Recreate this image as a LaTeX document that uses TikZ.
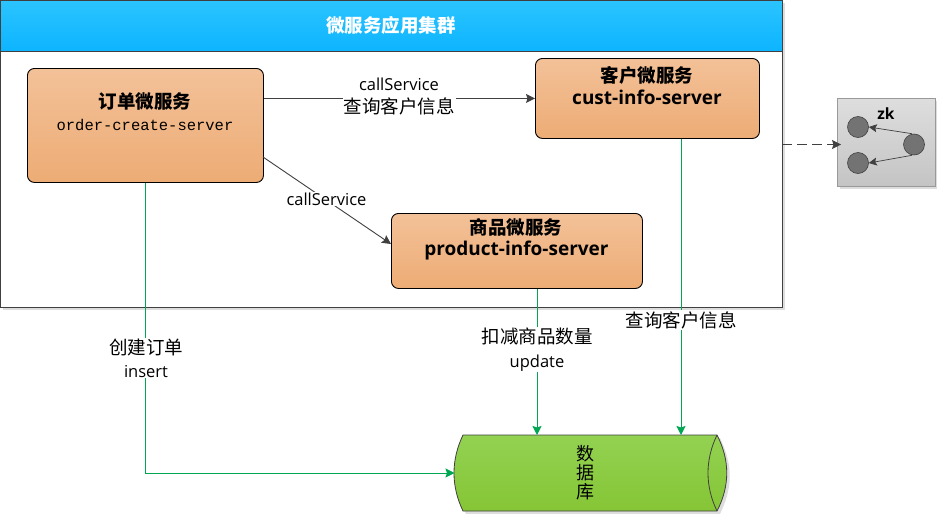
\documentclass[tikz,border=0pt]{standalone}
\usepackage{fontspec}
\setmainfont{Open Sans}
\setmonofont{Liberation Mono}
\newfontfamily\cjk{Noto Sans CJK SC}
\newcommand{\cjklabel}{\cjk\fontsize{18.5}{18}\selectfont}
\usetikzlibrary{arrows.meta,positioning,calc}
\definecolor{lineGray}{HTML}{404040}
\definecolor{lineGreen}{HTML}{00A651}
\definecolor{shadowGray}{HTML}{DDDDDD}
\definecolor{orangeA}{HTML}{F3C198}
\definecolor{orangeB}{HTML}{EDAC75}
\definecolor{circFill}{HTML}{737373}
\definecolor{headA}{HTML}{2BC4FF}
\definecolor{headB}{HTML}{0DB4FF}
\definecolor{dbA}{HTML}{93D252}
\definecolor{dbB}{HTML}{85C535}
\definecolor{zkA}{HTML}{DEDEDE}
\definecolor{zkB}{HTML}{C4C4C4}
\tikzset{
  service/.style={draw=black,line width=0.9pt,rounded corners=7pt,top color=orangeA,bottom color=orangeB,inner sep=0pt},
  darrow/.style={draw=lineGray,line width=0.9pt,-{Stealth[length=9pt,width=9pt,inset=1.5pt]}},
  garrow/.style={draw=lineGreen,line width=0.9pt,-{Stealth[length=9pt,width=9pt,inset=1.5pt]}},
  lab/.style={fill=white,inner sep=1pt,font=\fontsize{16.5}{18}\selectfont,align=center},
  zkcirc/.style={circle,draw=lineGray,line width=0.6pt,fill=circFill,minimum width=21pt,inner sep=0pt},
  headtext/.style={font=\cjk\bfseries\fontsize{18.5}{21}\selectfont},
  svcname/.style={font=\bfseries\fontsize{19}{20}\selectfont},
}
\begin{document}
\begin{tikzpicture}[x=1pt,y=-1pt]
\useasboundingbox (0,0) rectangle (937,514);
% cluster frame
\fill[shadowGray] (3,3) rectangle (785,310);
\node[draw=lineGray,line width=0.8pt,fill=white,minimum width=782pt,minimum height=307pt,inner sep=0pt,anchor=north west] (frame) at (0,0) {};
\node[draw=lineGray,line width=0.8pt,top color=headA,bottom color=headB,minimum width=782pt,minimum height=51pt,inner sep=0pt,anchor=north west] (header) at (0,0) {};
\node[text=white,headtext] (title) at (391,25) {微服务应用集群};
% services
\node[service,minimum width=236pt,minimum height=114pt,anchor=north west] (order) at (27,68) {};
\node[headtext] (ordert) at (145,101) {订单微服务};
\node[font=\ttfamily\fontsize{15.5}{18}\selectfont] (ordern) at (145,125) {order-create-server};
\node[service,minimum width=224pt,minimum height=80pt,anchor=north west] (cust) at (535,58) {};
\node[headtext] (custt) at (647,75) {客户微服务};
\node[svcname] (custn) at (647,97) {cust-info-server};
\node[service,minimum width=251pt,minimum height=75pt,anchor=north west] (product) at (391,213) {};
\node[headtext] (prodt) at (516,227) {商品微服务};
\node[svcname] (prodn) at (516.500,250.500) {product-info-server};
% database
\fill[shadowGray] (466,438) -- (720,438) .. controls (733,465) and (733,487) .. (720,514) -- (466,514) .. controls (453,487) and (453,465) .. (466,438) -- cycle;
\path[draw=lineGray,line width=0.8pt,top color=dbA,bottom color=dbB] (463,435) coordinate (dbTL) -- (717,435) coordinate (dbTR) .. controls (730,460) and (730,486) .. (717,511) coordinate (dbBR) -- (463,511) coordinate (dbBL) .. controls (451,486) and (451,460) .. (463,435) -- cycle;
\draw[lineGray,line width=0.8pt] (dbTR) .. controls (705,460) and (705,486) .. (dbBR);
\coordinate (dbW) at (454.5,473);
\node[font=\cjk\fontsize{18}{19}\selectfont,align=center] (dbt) at (585,473) {数\\据\\库};
% zk
\fill[shadowGray] (840,101) rectangle (937,189);
\node[draw=gray!80,line width=0.6pt,top color=zkA,bottom color=zkB,minimum width=98pt,minimum height=88pt,inner sep=0pt,anchor=north west] (zk) at (837,98) {};
\node[font=\bfseries\fontsize{15.5}{16}\selectfont] (zkt) at (886,114) {zk};
\node[zkcirc,minimum height=20pt] (z1) at (858,127) {};
\node[zkcirc,minimum height=20pt] (z2) at (858,163) {};
\node[zkcirc,minimum height=20pt] (z3) at (914,144.500) {};
\draw[darrow,-{Stealth[length=8pt,width=8pt,inset=1.5pt]},line width=0.7pt] (z3.north) ++(-2,0) -- (z1.east);
\draw[darrow,-{Stealth[length=8pt,width=8pt,inset=1.5pt]},line width=0.7pt] (z3.south) ++(-2,0) -- (z2.east);
% connectors
\coordinate (oP) at (263,157);
\coordinate (pO) at (391,244);
\draw[darrow] (order.east |- cust.west) -- (cust.west);
\draw[darrow] (oP) -- (pO);
\coordinate (fE) at (782,144.500);
\coordinate (zkIn) at (841,144.500);
\draw[darrow,line width=1pt,dash pattern=on 10pt off 5pt] (fE) -- (zkIn);
\draw[garrow] (order.south) |- (dbW);
\coordinate (dbP) at (537,435);
\coordinate (dbC) at (681,435);
\draw[garrow] (dbP |- product.south) -- (dbP);
\draw[garrow] (dbC |- cust.south) -- (dbC);
% labels
\node[lab] (l1) at (399,96.500) {callService\\[5pt]{\cjklabel 查询客户信息}};
\node[lab] (l2) at (326.500,199) {callService};
\node[lab] (l3) at (146,358) {{\cjklabel 创建订单}\\[5pt]insert};
\node[lab] (l4) at (537,349.500) {{\cjklabel 扣减商品数量}\\[6pt]update};
\node[lab] (l5) at (681,320) {\cjklabel 查询客户信息};
\end{tikzpicture}
\end{document}
